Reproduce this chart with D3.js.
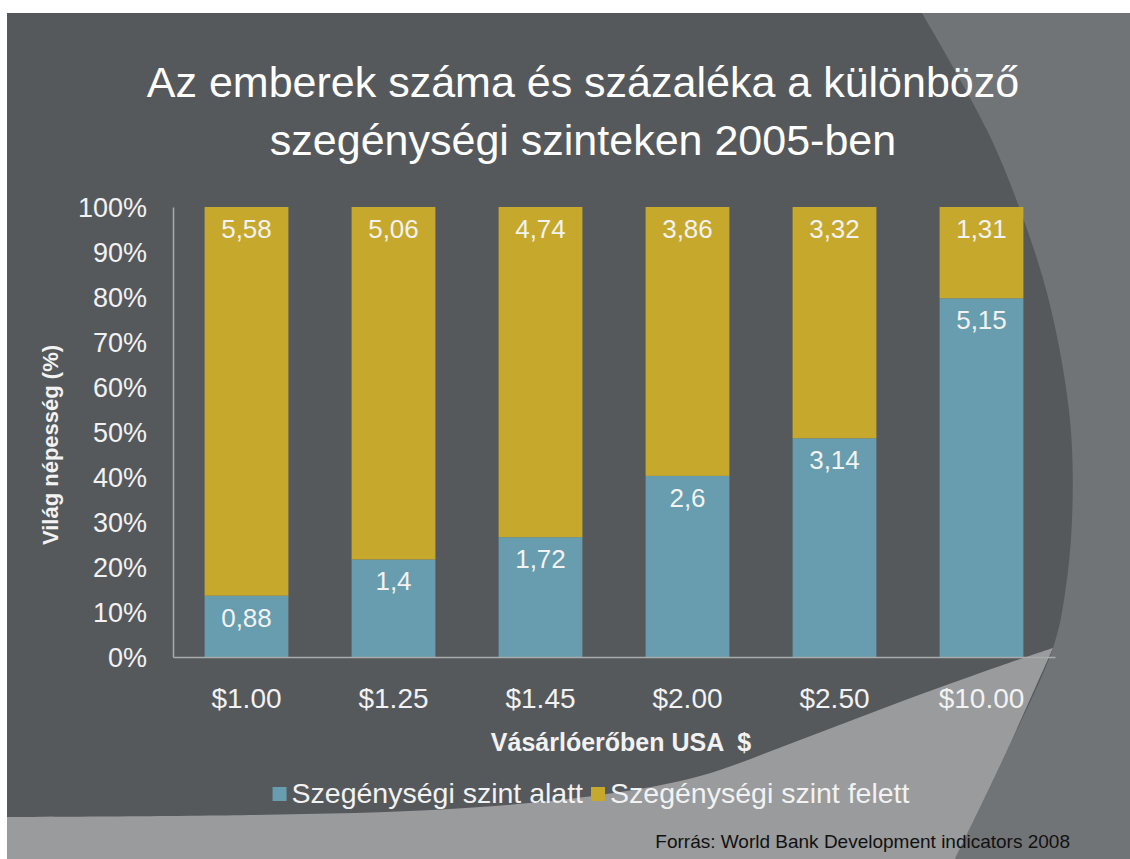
<!DOCTYPE html>
<html>
<head>
<meta charset="utf-8">
<script src="https://cdn.jsdelivr.net/npm/d3@7/dist/d3.min.js"></script>
<style>
	html, body { margin: 0; padding: 0; background: #fff; }
	svg { display: block; font-family: "Liberation Sans", Arial, sans-serif; }
</style>
</head>
<body>
<svg id="chart" width="1130" height="859"></svg>
<script>
// data
var categories = ['$1.00', '$1.25', '$1.45', '$2.00', '$2.50', '$10.00'];
var belowValues = [0.88, 1.4, 1.72, 2.6, 3.14, 5.15];
var aboveValues = [5.58, 5.06, 4.74, 3.86, 3.32, 1.31];
var seriesKeys = ['below', 'above'];
var seriesNames = ['Szegénységi szint alatt', 'Szegénységi szint felett'];
var seriesColors = ['#679dae', '#c6a92c'];
var yTicks = [0, 0.1, 0.2, 0.3, 0.4, 0.5, 0.6, 0.7, 0.8, 0.9, 1];
var titleLines = ['Az emberek száma és százaléka a különböző', 'szegénységi szinteken 2005-ben'];

var svg = d3.select('#chart');
var W = 1130, H = 859;
var textColor = '#f2f2f2';

/* background slide */
var bg = svg.append('g').attr('class', 'background');

bg.append('rect')
	.attr('x', 7).attr('y', 13)
	.attr('width', W - 7).attr('height', H - 13)
	.attr('fill', '#56595c');

var curve = d3.line().curve(d3.curveCatmullRom.alpha(0.5));

// right side lighter panel
var rightEdge = [[922, 13], [987, 130], [1022, 215], [1050, 305], [1070, 420], [1072, 520], [1064, 600], [1053, 648], [1005, 755], [955, 859]];
bg.append('path')
	.attr('d', curve(rightEdge) + 'L' + [W, H] + 'L' + [W, 13] + 'Z')
	.attr('fill', '#717477');

// bottom light swoosh
var bottomEdge = [[7, 817], [250, 815], [450, 809], [600, 795], [700, 776], [800, 740], [900, 702], [1000, 666], [1053, 648]];
var bottomRight = rightEdge.slice(7);
bg.append('path')
	.attr('d', curve(bottomEdge) + curve(bottomRight).replace('M', 'L') + 'L' + [7, H] + 'Z')
	.attr('fill', '#999b9d');

/* title */
svg.append('g').selectAll('text')
	.data(titleLines)
	.enter().append('text')
		.attr('x', 583)
		.attr('y', function (d, i) { return 97 + i * 58; })
		.attr('text-anchor', 'middle')
		.attr('fill', '#ffffff')
		.style('font-size', '43px')
		.text(function (d) { return d; });

/* chart */
var plot = { left: 173, right: 1055, top: 207, bottom: 657 };

var rows = categories.map(function (c, i) {
	return { cat: c, below: belowValues[i], above: aboveValues[i] };
});

var stacked = d3.stack().keys(seriesKeys).offset(d3.stackOffsetExpand)(rows);

var x = d3.scaleBand()
	.domain(categories)
	.range([plot.left, plot.right])
	.paddingInner(0.43)
	.paddingOuter(0.215);

var y = d3.scaleLinear()
	.domain([0, 1])
	.range([plot.bottom, plot.top]);

var layers = svg.append('g').selectAll('g.layer')
	.data(stacked)
	.enter().append('g')
		.attr('class', 'layer')
		.attr('fill', function (d, i) { return seriesColors[i]; });

layers.selectAll('rect')
	.data(function (d) { return d; })
	.enter().append('rect')
		.attr('x', function (d) { return x(d.data.cat); })
		.attr('y', function (d) { return y(d[1]); })
		.attr('width', x.bandwidth())
		.attr('height', function (d) { return y(d[0]) - y(d[1]); });

// value labels, inside top of each segment
layers.each(function (layer) {
	d3.select(this).selectAll('text')
		.data(layer)
		.enter().append('text')
			.attr('x', function (d) { return x(d.data.cat) + x.bandwidth() / 2; })
			.attr('y', function (d) { return y(d[1]) + 31; })
			.attr('text-anchor', 'middle')
			.attr('fill', textColor)
			.style('font-size', '26px')
			.text(function (d) { return String(d.data[layer.key]).replace('.', ','); });
});

// axes
var yAxis = svg.append('g')
	.attr('transform', 'translate(' + plot.left + ',0)')
	.call(d3.axisLeft(y).tickValues(yTicks).tickFormat(d3.format('.0%')).tickSize(0).tickPadding(26));

var xAxis = svg.append('g')
	.attr('transform', 'translate(0,' + plot.bottom + ')')
	.call(d3.axisBottom(x).tickSize(0).tickPadding(31));

[yAxis, xAxis].forEach(function (ax) {
	ax.select('.domain').attr('stroke', '#a9abad').attr('stroke-width', 1.5);
	ax.selectAll('text')
		.attr('fill', textColor)
		.style('font-family', '"Liberation Sans", Arial, sans-serif');
});
yAxis.selectAll('text').attr('dy', '0.35em').style('font-size', '27px');
xAxis.selectAll('text').attr('dy', '0.71em').style('font-size', '28px');

// axis titles
svg.append('text')
	.attr('transform', 'translate(58,445) rotate(-90)')
	.attr('text-anchor', 'middle')
	.attr('fill', textColor)
	.style('font-size', '22px')
	.style('font-weight', 'bold')
	.text('Világ népesség (%)');

svg.append('text')
	.attr('x', (plot.left + plot.right) / 2 + 7)
	.attr('y', 751)
	.attr('text-anchor', 'middle')
	.attr('fill', textColor)
	.style('font-size', '25px')
	.style('font-weight', 'bold')
	.style('white-space', 'pre')
	.text('Vásárlóerőben USA  $');

/* legend */
var legend = svg.append('g');
var items = legend.selectAll('g')
	.data(seriesNames)
	.enter().append('g');

items.append('rect')
	.attr('width', 14).attr('height', 14)
	.attr('y', -16)
	.attr('fill', function (d, i) { return seriesColors[i]; });

items.append('text')
	.attr('x', 19)
	.attr('fill', textColor)
	.style('font-size', '28.5px')
	.text(function (d) { return d; });

var offset = 0;
items.each(function () {
	var g = d3.select(this);
	g.attr('transform', 'translate(' + offset + ',0)');
	offset += 19 + g.select('text').node().getComputedTextLength() + 8;
});
offset -= 8;
legend.attr('transform', 'translate(' + (591 - offset / 2) + ',803)');

/* source */
svg.append('text')
	.attr('x', 1070)
	.attr('y', 848)
	.attr('text-anchor', 'end')
	.attr('fill', '#111')
	.style('font-size', '19px')
	.text('Forrás: World Bank Development indicators 2008');
</script>
</body>
</html>
